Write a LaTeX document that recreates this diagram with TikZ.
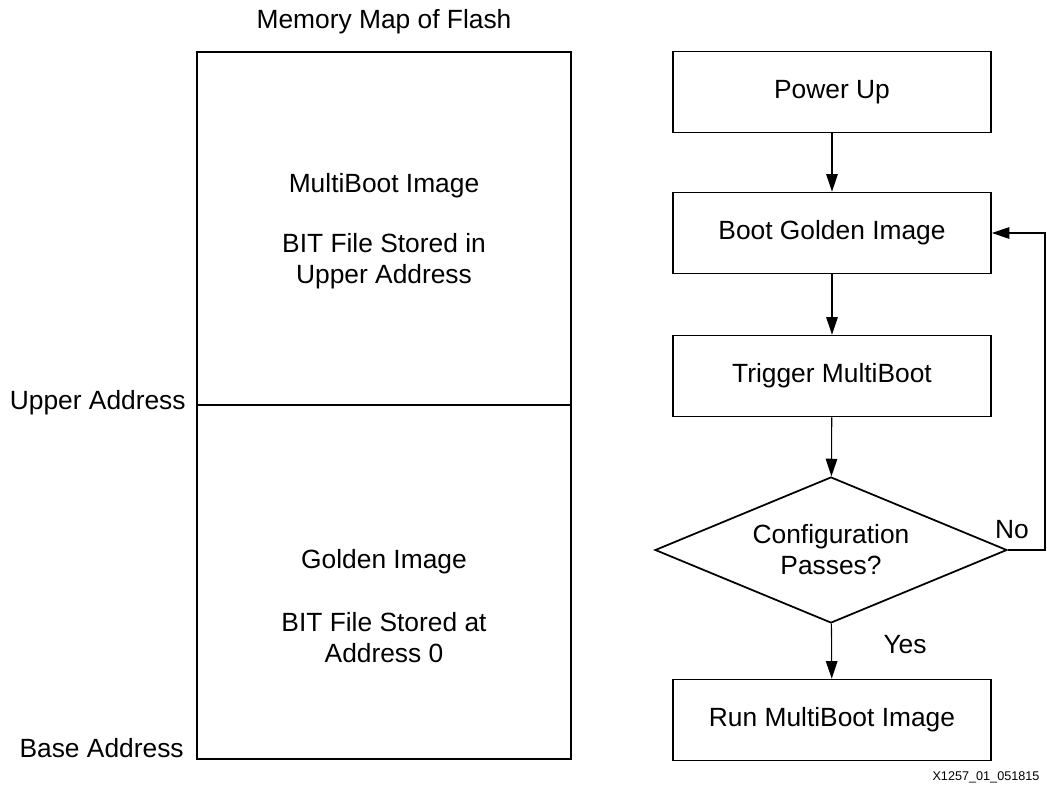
\documentclass[tikz,border=0pt]{standalone}
\usepackage{fontspec}
\setmainfont{Liberation Sans}
\usetikzlibrary{shapes.geometric,arrows.meta}
\tikzset{
  txt/.style = {align=center, inner sep=0pt, text centered, font=\fontsize{15}{17.6}\selectfont},
  procbox/.style = {txt, rectangle, draw=black, line width=1pt, minimum width=6.36cm, minimum height=1.62cm},
  decision/.style = {txt, diamond, draw=black, line width=1pt, aspect=2.4, minimum width=7.04cm, minimum height=2.92cm},
  flow/.style = {draw=black, line width=0.6pt, -{Triangle[length=10pt,width=6.6pt]}},
}

\begin{document}
\begin{tikzpicture}[x=0.02cm, y=-0.02cm]
\useasboundingbox (0,0) rectangle (1047,787);
% memory map of the flash
\node [txt] (title) at (384,22) {Memory Map of Flash};
\draw [line width=1pt] (197,52) rectangle (571,759);
\draw [line width=1pt] (197,405) -- (571,405);
\node [txt] (multi) at (384,186) {MultiBoot Image};
\node [txt] (multibit) at (384,261) {BIT File Stored in\\Upper Address};
\node [txt] (golden) at (384,562) {Golden Image};
\node [txt] (goldenbit) at (384,638) {BIT File Stored at\\Address 0};
\node [txt, anchor=east] (upper) at (186,403) {Upper Address};
\node [txt, anchor=east] (base) at (184,748) {Base Address};
% boot flow
\node [procbox] (pwr) at (832,92) {Power Up};
\node [procbox] (boot) at (832,233) {Boot Golden Image};
\node [procbox] (trig) at (832,376) {Trigger MultiBoot};
\node [decision] (chk) at (831,550) {Configuration\\Passes?};
\node [procbox] (run) at (832,720) {Run MultiBoot Image};
\coordinate (back) at (1045,233);
\draw [flow] (pwr) -- (boot);
\draw [flow] (boot) -- (trig);
\draw [flow] (trig) -- (chk);
\draw [flow] (chk) -- (run);
\draw [flow] (chk.east) -| (back) -- (boot.east);
\node [txt] (no) at (1012,530) {No};
\node [txt] (yes) at (905,645) {Yes};
\node [txt, font=\fontsize{7.2}{9}\selectfont] (fig) at (986,777) {X1257\_01\_051815};
\end{tikzpicture}
\end{document}
